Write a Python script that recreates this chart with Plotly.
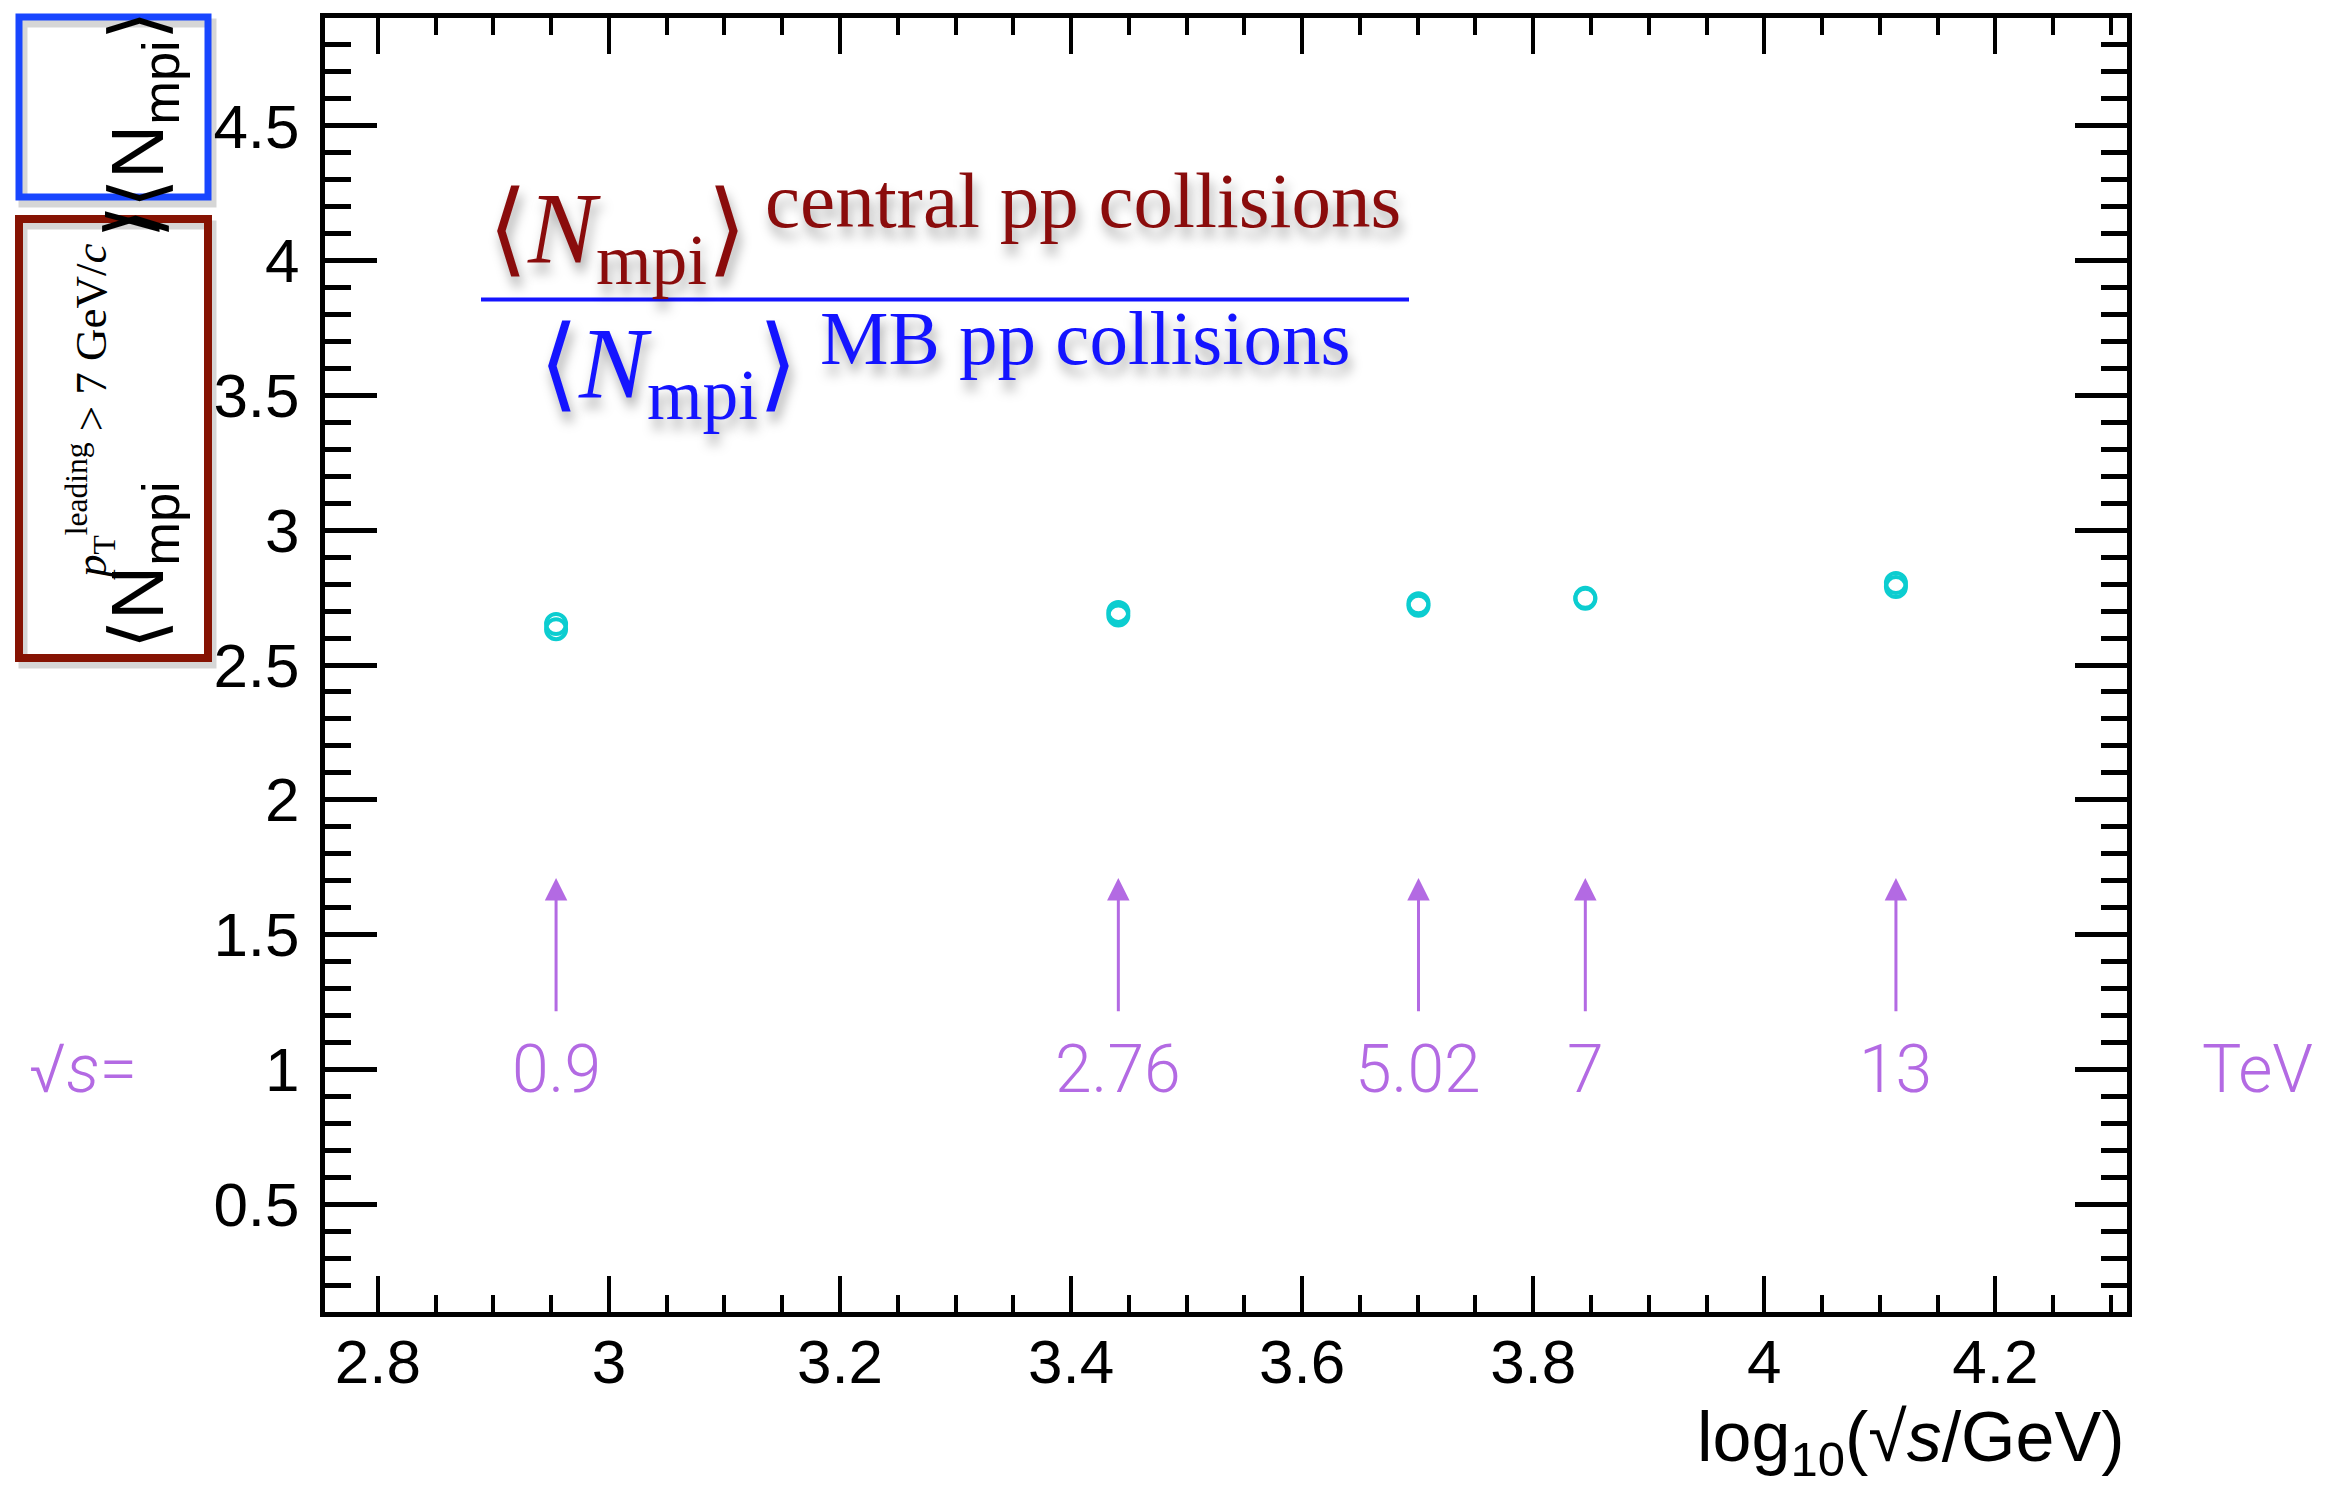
import numpy as np
import plotly.graph_objects as go

# ---------------- data ----------------
sqrt_s_tev = [0.9, 2.76, 5.02, 7, 13]
energy_labels = ["0.9", "2.76", "5.02", "7", "13"]
ratio_upper = [2.652, 2.697, 2.729, 2.749, 2.804]
ratio_lower = [2.633, 2.684, 2.720, 2.746, 2.789]
y_range = [0.1, 4.9]
label_y = 1.0
arrow_tail_y = 1.21
arrow_tip_y = 1.71

log_s = np.log10(np.array(sqrt_s_tev) * 1000.0)
x_range = [log_s[0] - 0.2, log_s[-1] + 0.2]

# ---------------- layout geometry ----------------
W, H = 2326, 1493
ML, MR, MT, MB = 325, 199, 18, 181
PW, PH = W - ML - MR, H - MT - MB


def px(xp):
    return (xp - ML) / PW


def py(yp):
    return (H - MB - yp) / PH


PURPLE = "#B36AE3"
CYAN = "#0CCDD0"
DARKRED = "#8A0C0C"
BLUE = "#1414FF"
BOXBLUE = "#1846FF"
BOXRED = "#861303"
SANS = "Liberation Sans, Arial, sans-serif"
SERIF = "Liberation Serif, Times New Roman, serif"
LIGHT = "Roboto, Lato, sans-serif"

fig = go.Figure()

for yv in (ratio_lower, ratio_upper):
    fig.add_trace(go.Scatter(
        x=log_s, y=yv, mode="markers",
        marker=dict(symbol="circle-open", size=20, color=CYAN,
                    line=dict(width=4, color=CYAN)),
        showlegend=False, hoverinfo="skip"))

annotations = []

# energy labels and arrows
for xv, lab in zip(log_s, energy_labels):
    annotations.append(dict(
        x=xv, y=label_y, xref="x", yref="y", text=lab, showarrow=False,
        xanchor="center", yanchor="middle",
        font=dict(family=LIGHT, size=66, color=PURPLE, weight=300)))
    annotations.append(dict(
        x=xv, y=arrow_tip_y, ax=xv, ay=arrow_tail_y, xref="x", yref="y",
        axref="x", ayref="y", text="", showarrow=True, arrowhead=2,
        arrowsize=1.5, arrowwidth=3, arrowcolor=PURPLE))

annotations.append(dict(
    x=px(83), y=label_y, xref="paper", yref="y", text="√<i>s</i>=",
    showarrow=False, xanchor="center", yanchor="middle",
    font=dict(family=LIGHT, size=68, color=PURPLE, weight=300)))
annotations.append(dict(
    x=px(2257), y=label_y, xref="paper", yref="y", text="TeV",
    showarrow=False, xanchor="center", yanchor="middle",
    font=dict(family=LIGHT, size=66, color=PURPLE, weight=300)))

# fraction legend
SHADOW = "3px 10px 12px rgba(0,0,0,0.35)"
annotations += [
    dict(x=px(486), y=py(236), xref="paper", yref="paper",
         text="⟨<i>N</i><sub>mpi</sub>⟩", showarrow=False,
         xanchor="left", yanchor="middle",
         font=dict(family=SERIF, size=102, color=DARKRED, shadow=SHADOW)),
    dict(x=px(763), y=py(200), xref="paper", yref="paper",
         text="central pp collisions", showarrow=False,
         xanchor="left", yanchor="middle",
         font=dict(family=SERIF, size=79, color=DARKRED, shadow=SHADOW)),
    dict(x=px(537), y=py(370), xref="paper", yref="paper",
         text="⟨<i>N</i><sub>mpi</sub>⟩", showarrow=False,
         xanchor="left", yanchor="middle",
         font=dict(family=SERIF, size=102, color=BLUE, shadow=SHADOW)),
    dict(x=px(818), y=py(338), xref="paper", yref="paper",
         text="MB pp collisions", showarrow=False,
         xanchor="left", yanchor="middle",
         font=dict(family=SERIF, size=77, color=BLUE, shadow=SHADOW)),
]

# x axis title
annotations.append(dict(
    x=1.0, y=py(1442), xref="paper", yref="paper",
    text="log<sub>10</sub>(√<i>s</i>/GeV)", showarrow=False,
    xanchor="right", yanchor="middle",
    font=dict(family=SANS, size=70, color="black")))

# y axis title pieces (rotated)
annotations += [
    dict(x=px(142), y=py(110), xref="paper", yref="paper",
         text="⟨N<sub>mpi</sub>⟩", textangle=-90, showarrow=False,
         xanchor="center", yanchor="middle",
         font=dict(family=SANS, size=75, color="black")),
    dict(x=px(133), y=py(224), xref="paper", yref="paper",
         text="⟩", textangle=-90, showarrow=False,
         xanchor="center", yanchor="middle",
         font=dict(family=SANS, size=75, color="black")),
    dict(x=px(133), y=py(222), xref="paper", yref="paper",
         text="/", textangle=-90, showarrow=False,
         xanchor="center", yanchor="middle",
         font=dict(family=SANS, size=75, color="black")),
    dict(x=px(142), y=py(565), xref="paper", yref="paper",
         text="⟨N<sub>mpi</sub>", textangle=-90, showarrow=False,
         xanchor="center", yanchor="middle",
         font=dict(family=SANS, size=75, color="black")),
    dict(x=px(90), y=py(412), xref="paper", yref="paper",
         text="<i>p</i><sub>T</sub><sup>leading</sup> > 7 GeV/<i>c</i>",
         textangle=-90, showarrow=False,
         xanchor="center", yanchor="middle",
         font=dict(family=SERIF, size=45, color="black")),
]

shapes = []
# box shadows
for (x0, y0, x1, y1) in [(19, 17, 208, 197), (19, 219, 208, 658)]:
    shapes.append(dict(type="rect", xref="paper", yref="paper",
                       x0=px(x0 + 4), x1=px(x1 + 4), y0=py(y0 + 6), y1=py(y1 + 6),
                       line=dict(color="rgba(0,0,0,0.16)", width=9)))
shapes.append(dict(type="rect", xref="paper", yref="paper",
                   x0=px(19), x1=px(208), y0=py(17), y1=py(197),
                   line=dict(color=BOXBLUE, width=7)))
shapes.append(dict(type="rect", xref="paper", yref="paper",
                   x0=px(19), x1=px(208), y0=py(219), y1=py(658),
                   line=dict(color=BOXRED, width=8)))
# fraction bar
shapes.append(dict(type="line", xref="paper", yref="paper",
                   x0=px(481), x1=px(1409), y0=py(299.5), y1=py(299.5),
                   line=dict(color=BLUE, width=4)))

fig.update_layout(
    width=W, height=H,
    margin=dict(l=ML, r=MR, t=MT, b=MB, pad=0),
    paper_bgcolor="white", plot_bgcolor="white",
    showlegend=False,
    annotations=annotations, shapes=shapes,
    xaxis=dict(range=x_range, showgrid=False, zeroline=False,
               showline=True, linewidth=5, linecolor="black", mirror="ticks",
               ticks="inside", ticklen=36, tickwidth=4, tickcolor="black",
               tick0=0, dtick=0.2, ticklabelstandoff=-8,
               tickfont=dict(family=SANS, size=62, color="black"),
               minor=dict(tick0=0, dtick=0.05, ticks="inside", ticklen=17,
                          tickwidth=4, tickcolor="black")),
    yaxis=dict(range=y_range, showgrid=False, zeroline=False,
               showline=True, linewidth=5, linecolor="black", mirror="ticks",
               ticks="inside", ticklen=52, tickwidth=5, tickcolor="black",
               tick0=0, dtick=0.5, ticklabelstandoff=8,
               tickfont=dict(family=SANS, size=62, color="black"),
               minor=dict(tick0=0, dtick=0.1, ticks="inside", ticklen=26,
                          tickwidth=5, tickcolor="black")),
)

fig.write_html("out.html", config={"displayModeBar": False})
